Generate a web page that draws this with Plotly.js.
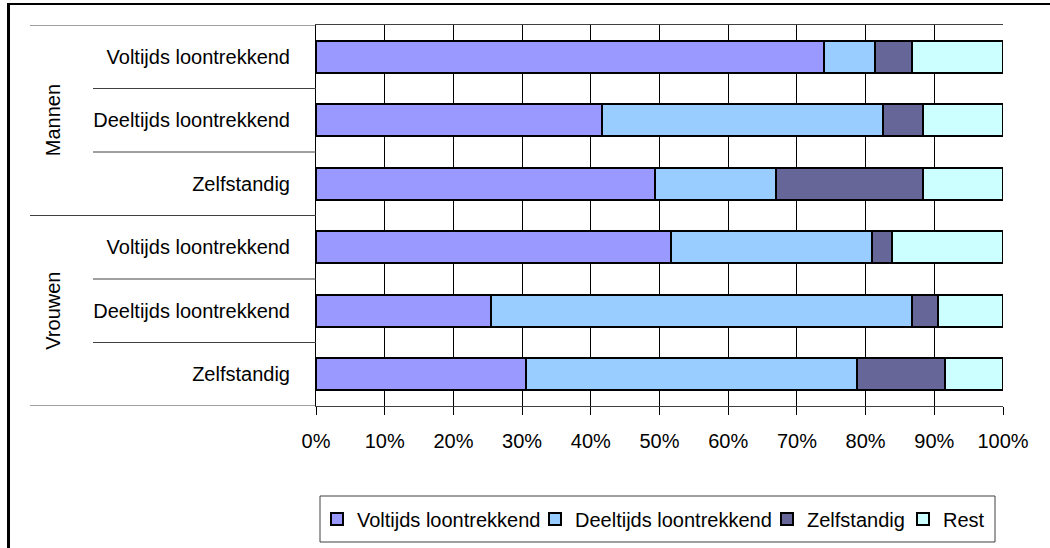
<!DOCTYPE html>
<html>
<head>
<meta charset="utf-8">
<script src="https://cdn.plot.ly/plotly-3.0.1.min.js"></script>
<style>
  html, body { margin: 0; padding: 0; background: #fff; }
  #chart { position: absolute; left: 0; top: 0; width: 1050px; height: 548px; }
  #frame { position: absolute; left: 7px; top: 3px; width: 1100px; height: 600px;
           border-left: 3px solid #000; border-top: 2px solid #000; pointer-events: none; z-index: 10; }
</style>
</head>
<body>
<div id="chart"></div>
<div id="frame"></div>
<script>
// Categories (top to bottom)
const groups = ["Mannen", "Vrouwen"];
const categories = ["Voltijds loontrekkend", "Deeltijds loontrekkend", "Zelfstandig",
                    "Voltijds loontrekkend", "Deeltijds loontrekkend", "Zelfstandig"];
const groupOfRow = [0, 0, 0, 1, 1, 1];

// Series values (percent)
const seriesNames = ["Voltijds loontrekkend", "Deeltijds loontrekkend", "Zelfstandig", "Rest"];
const voltijds    = [74.0, 41.7, 49.4, 51.7, 25.4, 30.6];
const deeltijds   = [7.3, 40.9, 17.6, 29.3, 61.3, 48.2];
const zelfstandig = [5.4, 5.7, 21.3, 2.9, 3.8, 12.7];
const rest        = [13.3, 11.7, 11.7, 16.1, 9.5, 8.5];

// x-axis ticks
const xTickVals   = [0, 10, 20, 30, 40, 50, 60, 70, 80, 90, 100];
const xTickLabels = ["0%", "10%", "20%", "30%", "40%", "50%", "60%", "70%", "80%", "90%", "100%"];

const colors = ["#9999FF", "#99CCFF", "#666699", "#CCFFFF"];
const seriesValues = [voltijds, deeltijds, zelfstandig, rest];
const rowIdx = categories.map((_, i) => i);

const FONT = "Liberation Sans, Arial, sans-serif";
const legendIds = ["legend", "legend2", "legend3", "legend4"];
// left pixel of each legend entry (layout only)
const legendLeftPx = [317, 535, 767, 903];

const traces = seriesValues.map((vals, s) => ({
  type: "bar",
  orientation: "h",
  name: seriesNames[s],
  x: vals,
  y: rowIdx,
  legend: legendIds[s],
  marker: { color: colors[s], line: { color: "#000", width: 2 } },
  hoverinfo: "x+name"
}));

// plot area geometry helpers (paper coords)
const plotL = 316, plotR = 1003, plotT = 25, plotB = 406;
const pw = plotR - plotL, ph = plotB - plotT;
const px = v => (v - plotL) / pw;
const py = v => (plotB - v) / ph;

const shapes = [];
// group separators (long lines)
[-0.5, 2.5, 5.5].forEach(yv => shapes.push({
  type: "line", xref: "paper", yref: "y", x0: px(30), x1: 0, y0: yv, y1: yv,
  line: { color: "#404040", width: 1 }
}));
// category separators (short lines)
[0.5, 1.5, 3.5, 4.5].forEach(yv => shapes.push({
  type: "line", xref: "paper", yref: "y", x0: px(93), x1: 0, y0: yv, y1: yv,
  line: { color: "#404040", width: 1 }
}));
// legend box
shapes.push({
  type: "rect", xref: "paper", yref: "paper",
  x0: px(320), x1: px(995), y0: py(542), y1: py(496),
  line: { color: "#404040", width: 1 }, fillcolor: "rgba(0,0,0,0)"
});

const annotations = groups.map((g, gi) => {
  const rows = rowIdx.filter(i => groupOfRow[i] === gi);
  const mid = (rows[0] + rows[rows.length - 1]) / 2;
  return {
    text: g, xref: "paper", yref: "y", x: px(53), y: mid,
    showarrow: false, textangle: -90, xanchor: "center", yanchor: "middle",
    font: { family: FONT, size: 20, color: "#000" }
  };
});

const layout = {
  width: 1050, height: 548,
  margin: { l: plotL, r: 1050 - plotR, t: plotT, b: 548 - plotB, pad: 0 },
  paper_bgcolor: "#fff", plot_bgcolor: "#fff",
  barmode: "stack",
  bargap: 0.5,
  showlegend: true,
  xaxis: {
    range: [0, 100], tickmode: "array", tickvals: xTickVals, ticktext: xTickLabels,
    showgrid: true, gridcolor: "#000", gridwidth: 1,
    showline: true, linecolor: "#404040", linewidth: 1, mirror: true,
    ticks: "outside", ticklen: 8, tickcolor: "#000", tickwidth: 1,
    ticklabelstandoff: 9,
    zeroline: false, fixedrange: true,
    tickfont: { family: FONT, size: 20, color: "#000" }
  },
  yaxis: {
    range: [5.5, -0.5], tickmode: "array", tickvals: rowIdx, ticktext: categories,
    showgrid: false, zeroline: false,
    showline: true, linecolor: "#000", linewidth: 1,
    ticks: "outside", ticklen: 21, tickcolor: "rgba(0,0,0,0)",
    fixedrange: true,
    tickfont: { family: FONT, size: 20, color: "#000" }
  },
  shapes: shapes,
  annotations: annotations,
  font: { family: FONT, color: "#000" }
};

legendIds.forEach((id, i) => {
  layout[id] = {
    orientation: "h", xref: "container", yref: "container",
    x: legendLeftPx[i] / 1050, xanchor: "left", y: 1 - 519 / 548, yanchor: "middle",
    font: { family: FONT, size: 20, color: "#000" },
    bgcolor: "rgba(0,0,0,0)", borderwidth: 0
  };
});

Plotly.newPlot("chart", traces, layout, { displayModeBar: false, staticPlot: true });
</script>
</body>
</html>
